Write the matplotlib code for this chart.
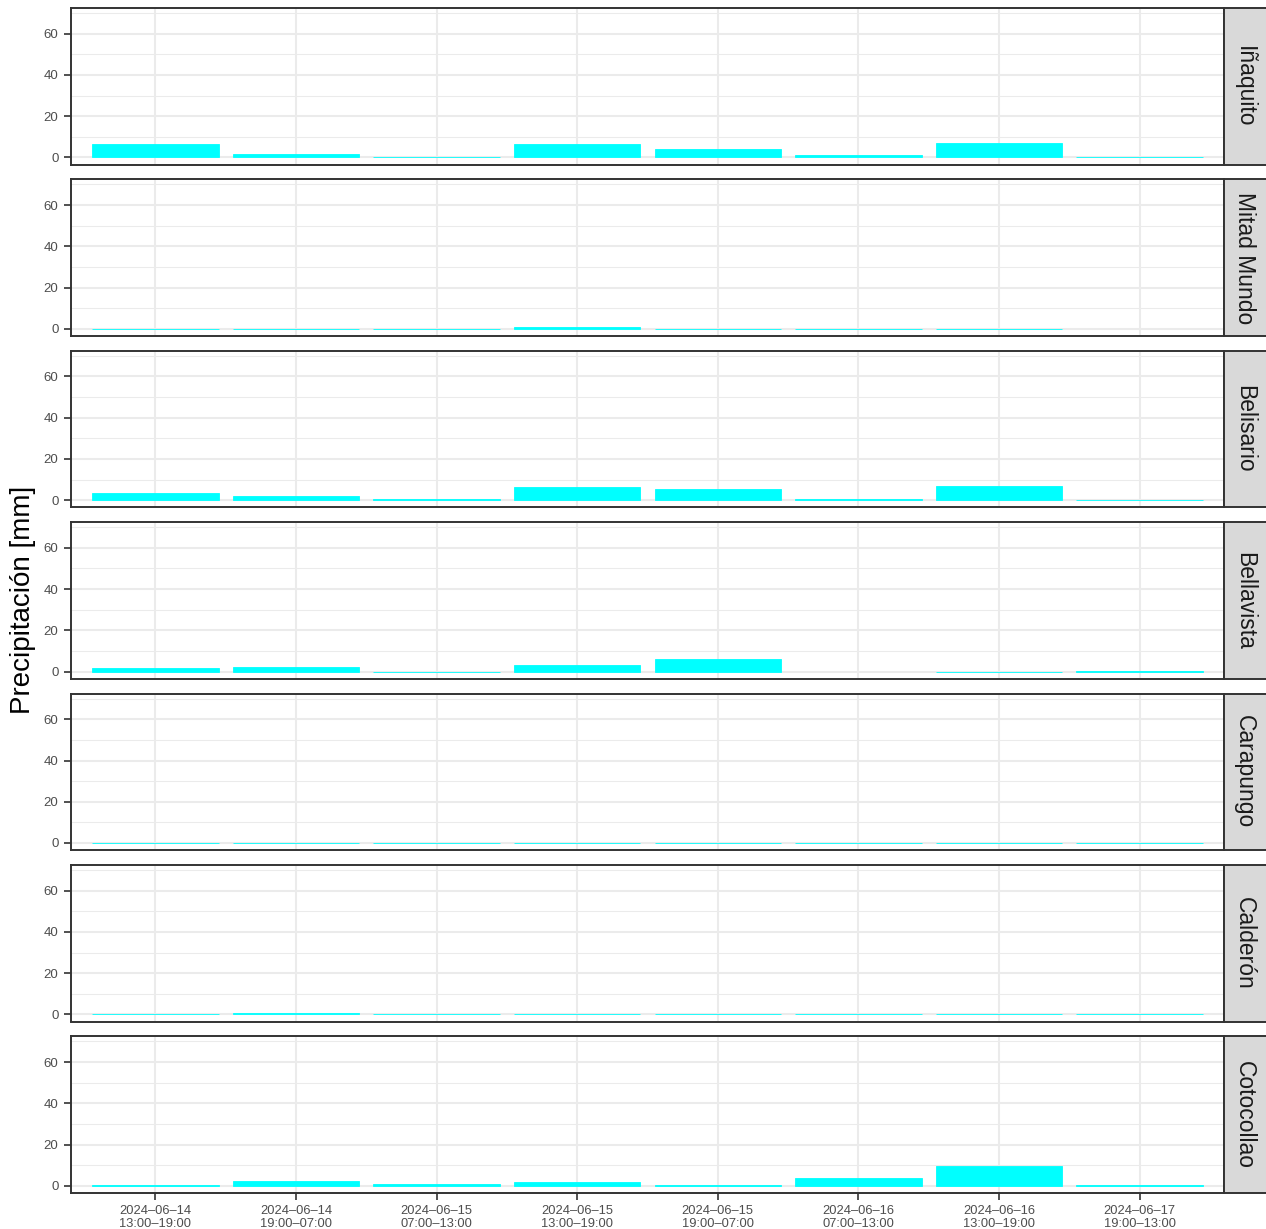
import numpy as np
import matplotlib
matplotlib.use('Agg')
import matplotlib.pyplot as plt

plt.rcParams['font.family'] = ['Liberation Sans', 'DejaVu Sans']

# -----------------------------
# Datos
# -----------------------------
periodos = [
    '2024–06–14\n13:00–19:00',
    '2024–06–14\n19:00–07:00',
    '2024–06–15\n07:00–13:00',
    '2024–06–15\n13:00–19:00',
    '2024–06–15\n19:00–07:00',
    '2024–06–16\n07:00–13:00',
    '2024–06–16\n13:00–19:00',
    '2024–06–17\n19:00–13:00',
]

estaciones = ['Iñaquito', 'Mitad Mundo', 'Belisario', 'Bellavista',
              'Carapungo', 'Calderón', 'Cotocollao']

inaquito = [6.7, 1.8, 0.3, 6.7, 4.3, 1.3, 6.8, 0.1]
mitad_mundo = [0.0, 0.0, 0.0, 1.0, 0.0, 0.0, 0.0, np.nan]
belisario = [3.7, 2.0, 0.4, 6.4, 5.2, 0.8, 6.8, 0.3]
bellavista = [1.5, 2.0, -0.4, 3.1, 5.9, np.nan, -0.4, 0.3]
carapungo = [0.0, 0.0, 0.0, 0.0, 0.0, 0.0, 0.0, 0.0]
calderon = [0.1, 0.8, 0.2, 0.1, 0.1, 0.1, 0.1, 0.1]
cotocollao = [0.3, 2.3, 0.8, 1.8, 0.2, 3.7, 9.8, 0.3]

valores = [inaquito, mitad_mundo, belisario, bellavista,
           carapungo, calderon, cotocollao]

# -----------------------------
# Figura
# -----------------------------
W, H = 1266, 1229
fig = plt.figure(figsize=(W / 100, H / 100), dpi=100)

left, right = 71, 1224
top0, alto, paso = 8, 156.5, 171.4
x = np.arange(1, len(periodos) + 1)

for i, (nombre, vals) in enumerate(zip(estaciones, valores)):
    top = top0 + i * paso
    ax = fig.add_axes([left / W, 1 - (top + alto) / H,
                       (right - left) / W, alto / H])
    v = np.array(vals, dtype=float)
    ok = ~np.isnan(v)
    ax.bar(x[ok], v[ok], width=0.9, color='#00FFFF',
           edgecolor='#00FFFF', linewidth=0.6, zorder=2)

    ax.set_xlim(0.4, len(periodos) + 0.6)
    ax.set_ylim(-3.45, 72.45)
    ax.set_yticks([0, 20, 40, 60])
    ax.set_yticks([10, 30, 50, 70], minor=True)
    ax.set_xticks(x)
    ax.set_axisbelow(True)
    ax.grid(True, which='major', color='#EBEBEB', linewidth=1.5, zorder=0)
    ax.grid(True, which='minor', axis='y', color='#EBEBEB', linewidth=0.75, zorder=0)

    for s in ax.spines.values():
        s.set_color('#333333')
        s.set_linewidth(1.4)
        s.set_zorder(3)

    ax.tick_params(axis='y', which='major', length=5, width=1.2,
                   color='#333333', labelsize=9.5, labelcolor='#4D4D4D', pad=4)
    ax.tick_params(axis='y', which='minor', length=0)
    if i == len(estaciones) - 1:
        ax.set_xticklabels(periodos, fontsize=9.3, color='#4D4D4D', linespacing=1.1)
        ax.tick_params(axis='x', length=5, width=1.2, color='#333333', pad=4)
    else:
        ax.tick_params(axis='x', length=0, labelbottom=False)

    # tira de faceta
    sax = fig.add_axes([right / W, 1 - (top + alto) / H,
                        (W - right + 2) / W, alto / H])
    sax.set_facecolor('#D9D9D9')
    sax.set_xticks([])
    sax.set_yticks([])
    for s in sax.spines.values():
        s.set_color('#333333')
        s.set_linewidth(1.4)
    sax.text(0.47, 0.5, nombre, rotation=-90, ha='center', va='center',
             fontsize=16.5, color='#1A1A1A', transform=sax.transAxes)

fig.text(23 / W, 1 - 600 / H, 'Precipitación [mm]', rotation=90,
         ha='center', va='center', fontsize=20, color='black')

fig.savefig('out.png', dpi=100)
plt.close(fig)
